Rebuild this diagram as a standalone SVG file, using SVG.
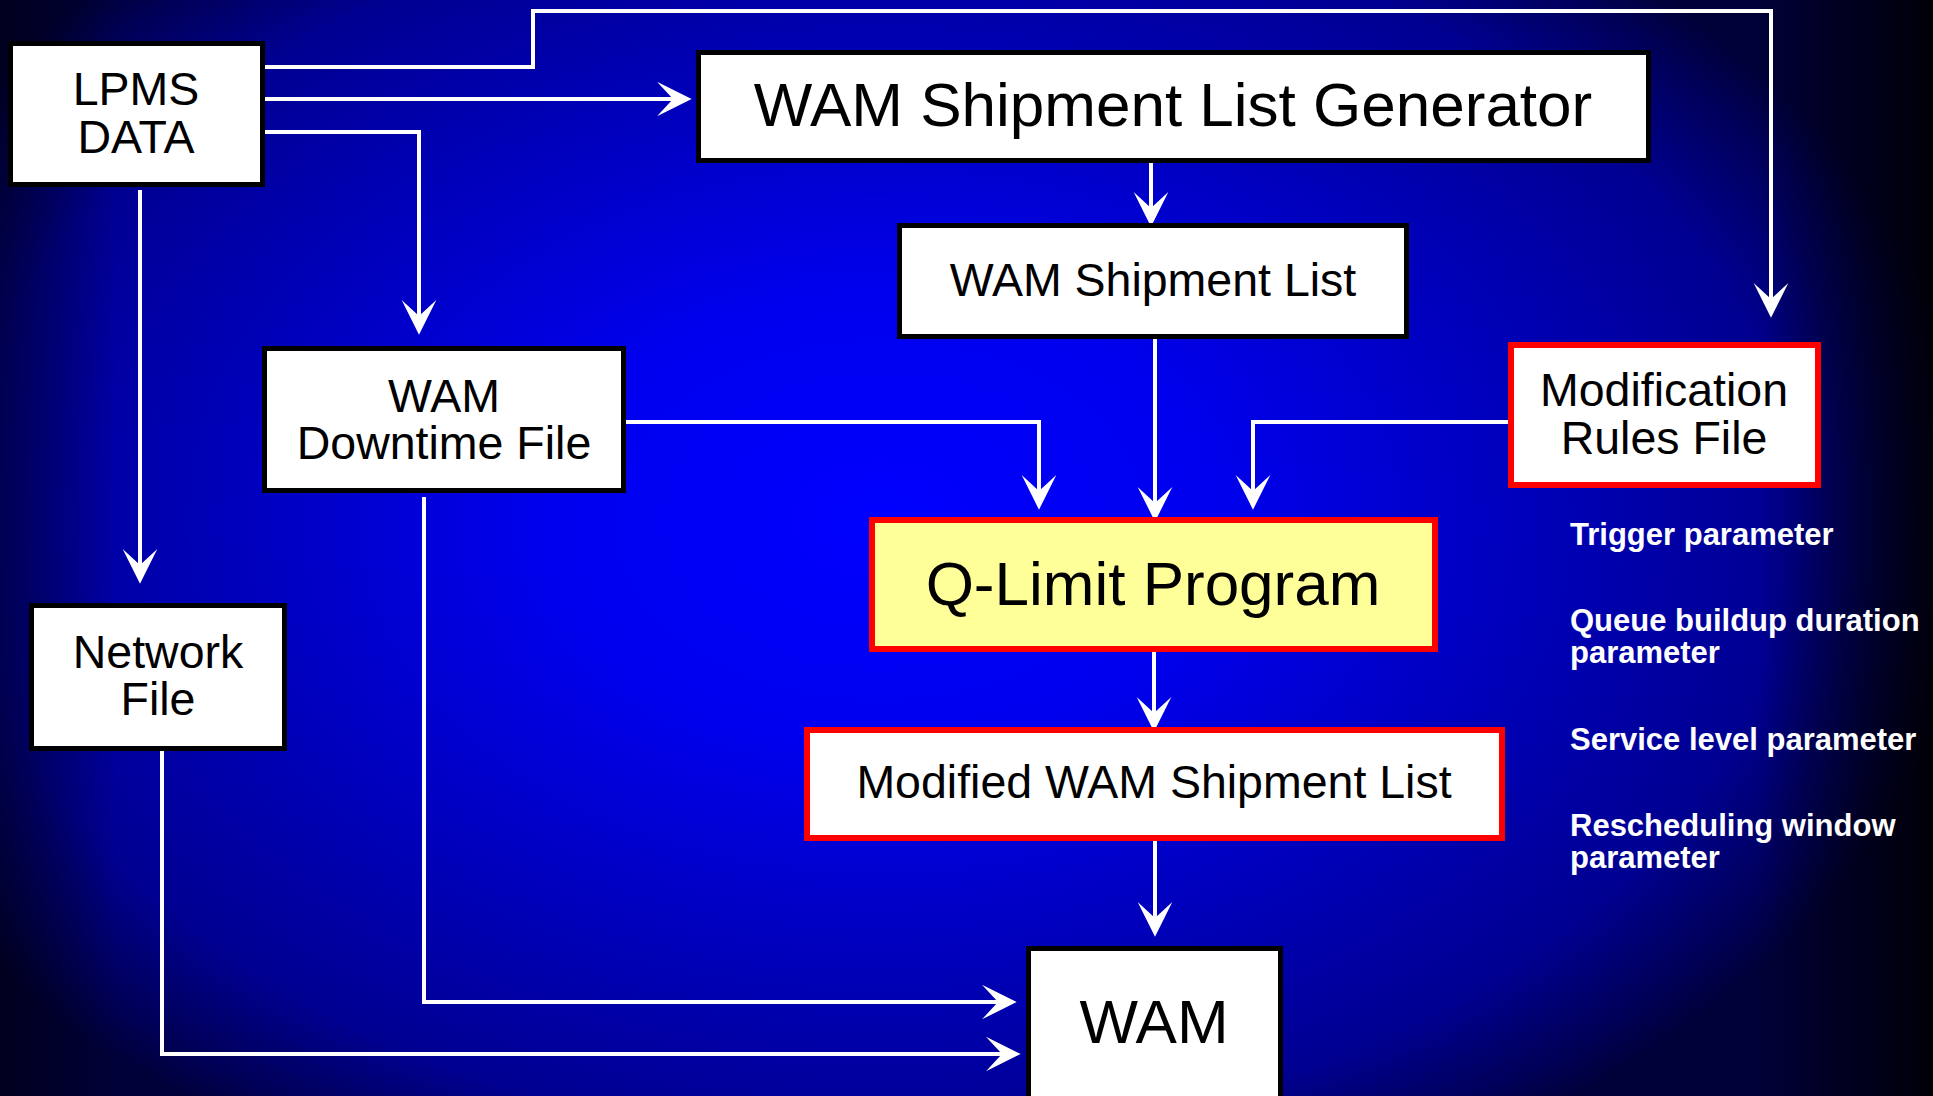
<svg xmlns="http://www.w3.org/2000/svg" width="1933" height="1096" viewBox="0 0 1933 1096">
<defs>
<radialGradient id="bg" gradientUnits="userSpaceOnUse" cx="880" cy="520" r="1100" gradientTransform="translate(880 520) scale(1 0.68) translate(-880 -520)">
<stop offset="0" stop-color="#0000ff"/>
<stop offset="0.3" stop-color="#0000ee"/>
<stop offset="0.83" stop-color="#000090"/>
<stop offset="0.95" stop-color="#000055"/>
<stop offset="1.1" stop-color="#000038"/>
</radialGradient>
<linearGradient id="edge" x1="0" y1="0" x2="1933" y2="0" gradientUnits="userSpaceOnUse">
<stop offset="0" stop-color="#000000" stop-opacity="0.45"/>
<stop offset="0.06" stop-color="#000000" stop-opacity="0"/>
<stop offset="0.91" stop-color="#000000" stop-opacity="0"/>
<stop offset="1" stop-color="#000000" stop-opacity="0.85"/>
</linearGradient>
<marker id="ah" markerUnits="userSpaceOnUse" markerWidth="40" markerHeight="40" viewBox="-14 -14 30 28" refX="0" refY="0" orient="auto">
<path d="M14,0 L-12,-13 L0,0 L-12,13 Z" fill="#ffffff"/>
</marker>
<style>
.box{fill:#ffffff;stroke:#000000;stroke-width:5}
.rbox{fill:#ffffff;stroke:#ff0000;stroke-width:6}
.ybox{fill:#ffff99;stroke:#ff0000;stroke-width:6}
.t{font-family:"Liberation Sans",Arial,sans-serif;fill:#000000;text-anchor:middle}
.m{font-size:46.5px}
.b{font-size:62px}
.lab{font-family:"Liberation Sans",Arial,sans-serif;font-weight:bold;font-size:31px;fill:#ffffff}
.c{fill:none;stroke:#ffffff;stroke-width:4;marker-end:url(#ah)}
.n{fill:none;stroke:#ffffff;stroke-width:4}
</style>
</defs>
<rect x="0" y="0" width="1933" height="1096" fill="url(#bg)"/>
<rect x="0" y="0" width="1933" height="1096" fill="url(#edge)"/>

<g id="connectors">
<path class="c" d="M263,67 H533 V11 H1771 V299"/>
<path class="c" d="M263,99 H673"/>
<path class="c" d="M263,132 H419 V316"/>
<path class="c" d="M140,190 V565"/>
<path class="c" d="M1151,163 V208"/>
<path class="c" d="M1155,339 V503"/>
<path class="c" d="M626,422 H1039 V491"/>
<path class="c" d="M1508,422 H1253 V491"/>
<path class="c" d="M1154,652 V713"/>
<path class="c" d="M1155,841 V918"/>
<path class="c" d="M424,497 V1002 H998"/>
<path class="c" d="M162,751 V1054 H1002"/>
</g>

<g id="lpms">
<rect class="box" x="10.5" y="43.5" width="252" height="141"/>
<text class="t m" x="136" y="105">LPMS</text>
<text class="t m" x="136" y="153">DATA</text>
</g>
<g id="generator">
<rect class="box" x="698.5" y="52.5" width="950" height="108"/>
<text class="t b" x="1173" y="126">WAM Shipment List Generator</text>
</g>
<g id="shipment-list">
<rect class="box" x="899.5" y="225.5" width="507" height="111"/>
<text class="t m" x="1153" y="296">WAM Shipment List</text>
</g>
<g id="downtime">
<rect class="box" x="264.5" y="348.5" width="359" height="142"/>
<text class="t m" x="444" y="412">WAM</text>
<text class="t m" x="444" y="459">Downtime File</text>
</g>
<g id="network">
<rect class="box" x="31.5" y="605.5" width="253" height="143"/>
<text class="t m" x="158" y="668">Network</text>
<text class="t m" x="158" y="715">File</text>
</g>
<g id="modrules">
<rect class="rbox" x="1511" y="345" width="307" height="140"/>
<text class="t m" x="1664" y="406">Modification</text>
<text class="t m" x="1664" y="454">Rules File</text>
</g>
<g id="qlimit">
<rect class="ybox" x="872" y="520" width="563" height="129"/>
<text class="t b" x="1153" y="605">Q-Limit Program</text>
</g>
<g id="modified">
<rect class="rbox" x="807" y="730" width="695" height="108"/>
<text class="t m" x="1154" y="798">Modified WAM Shipment List</text>
</g>
<g id="wam">
<rect class="box" x="1028.5" y="948.5" width="252" height="200"/>
<text class="t b" x="1154" y="1043">WAM</text>
</g>
<g id="parameters">
<text class="lab" x="1570" y="545">Trigger parameter</text>
<text class="lab" x="1570" y="631">Queue buildup duration</text>
<text class="lab" x="1570" y="663">parameter</text>
<text class="lab" x="1570" y="750">Service level parameter</text>
<text class="lab" x="1570" y="836">Rescheduling window</text>
<text class="lab" x="1570" y="868">parameter</text>
</g>
</svg>
